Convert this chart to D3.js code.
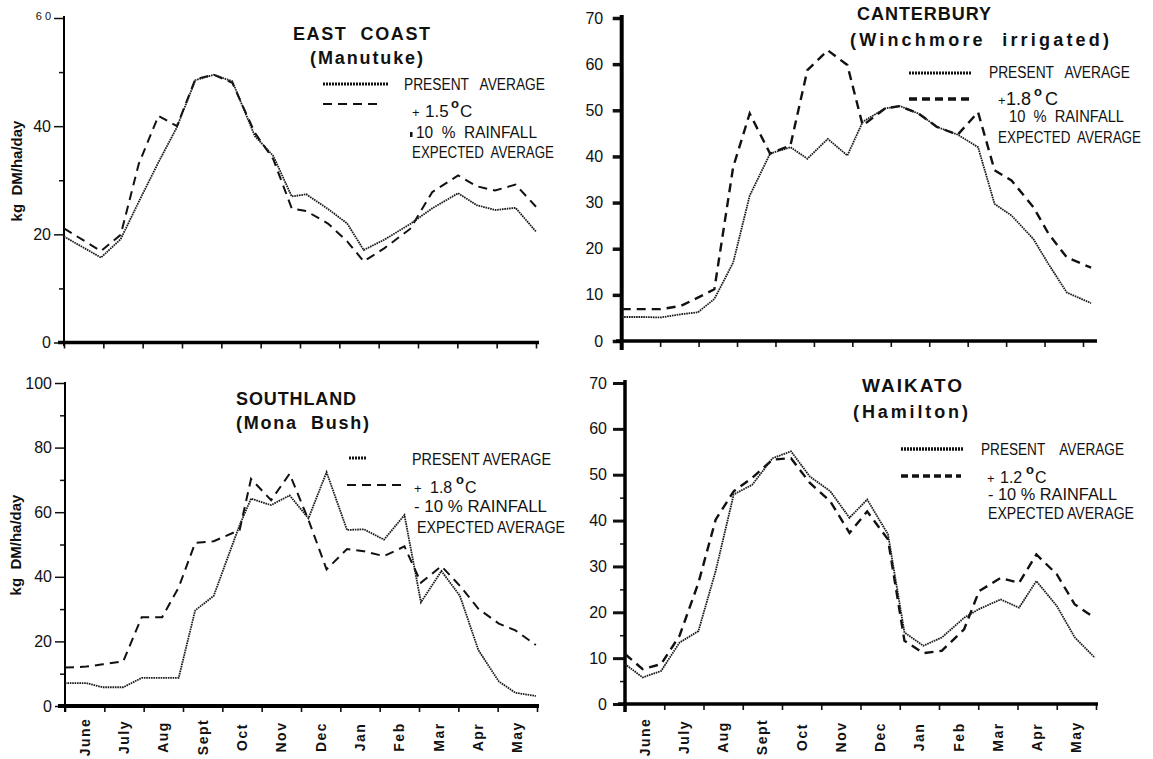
<!DOCTYPE html>
<html>
<head>
<meta charset="utf-8">
<script src="https://cdn.jsdelivr.net/npm/d3@7"></script>
<style>
  body { margin: 0; background: #fff; }
  text { font-family: "Liberation Sans", Arial, sans-serif; fill: #111; }
</style>
</head>
<body>
<script>
// month names under the bottom panels
var months = ["June", "July", "Aug", "Sept", "Oct", "Nov", "Dec", "Jan", "Feb", "Mar", "Apr", "May"];

// EAST COAST (Manutuke) - x in months from start of June
var eastX       = [0, 0.94, 1.44, 1.90, 2.40, 2.87, 3.34, 3.81, 4.28, 4.85, 5.32, 5.79, 6.16, 6.71, 7.20, 7.62, 8.14, 8.80, 9.36, 10.02, 10.49, 10.96, 11.48, 12.0];
var eastPresent = [19.6, 15.7, 19.1, 26, 33.3, 39.8, 48.5, 49.5, 48.3, 38.2, 34.5, 27, 27.4, 24.7, 22, 17.1, 19, 21.9, 24.8, 27.6, 25.4, 24.5, 24.9, 20.5];
var eastWarm    = [21.1, 16.9, 19.9, 33, 41.9, 40, 48.7, 49.5, 48, 38.8, 33.9, 24.8, 24.3, 22, 18.7, 15, 17.4, 21, 27.8, 30.9, 28.9, 28.1, 29.2, 25.1];
var eastTicks    = [0, 20, 40, 60];
var eastTickText = ["0", "20", "40", "6 0"];
var eastMinor    = [10, 30, 50];

// CANTERBURY (Winchmore irrigated)
var cantX       = [0, 0.58, 1.01, 1.54, 1.98, 2.41, 2.90, 3.33, 3.86, 4.39, 4.83, 5.36, 5.87, 6.27, 6.85, 7.24, 7.72, 8.20, 8.74, 9.27, 9.70, 10.14, 10.71, 11.10, 11.58, 12.21];
var cantPresent = [5.2, 5.2, 5.1, 5.8, 6.2, 9.1, 17, 31.5, 40.6, 42, 39.5, 43.8, 40.2, 47.5, 50.4, 50.9, 49.3, 46.4, 44.7, 42, 29.7, 27.2, 22.1, 16.7, 10.5, 8.2];
var cantWarm    = [6.9, 6.9, 6.9, 7.6, 9.4, 11.2, 37.7, 49.3, 40.6, 42.4, 58.7, 63, 59.8, 46.7, 50.4, 50.9, 49.3, 46.4, 44.7, 49.6, 37, 34.8, 29, 23.3, 18.1, 15.9];
var cantTicks    = [0, 10, 20, 30, 40, 50, 60, 70];

// SOUTHLAND (Mona Bush)
var southX       = [0, 0.54, 0.96, 1.48, 1.95, 2.47, 2.89, 3.31, 3.78, 4.44, 4.73, 5.24, 5.71, 6.19, 6.65, 7.17, 7.60, 8.11, 8.63, 9.05, 9.57, 10.04, 10.51, 11.03, 11.45, 11.97];
var southPresent = [7.1, 7.1, 5.8, 5.8, 8.7, 8.7, 8.7, 29.6, 34.1, 56, 64.2, 62.2, 65.2, 58.1, 72.4, 54.5, 54.7, 51.5, 59.1, 32.1, 41.8, 34.1, 17.3, 7.6, 4.1, 3.1];
var southWarm    = [11.9, 12.2, 12.9, 13.8, 27.5, 27.5, 36.7, 50.5, 51, 54.5, 70.3, 63.7, 71.9, 57.6, 42.3, 48.6, 47.9, 46.4, 49.4, 38.2, 43.3, 37.2, 30.1, 25.5, 23.4, 18.9];
var southTicks   = [0, 20, 40, 60, 80, 100];
var southMinor   = [10, 30, 50, 70, 90];

// WAIKATO (Hamilton)
var waikX       = [0, 0.45, 0.92, 1.39, 1.87, 2.31, 2.77, 3.24, 3.76, 4.23, 4.71, 5.23, 5.72, 6.17, 6.70, 7.12, 7.60, 8.07, 8.64, 9.02, 9.57, 10.04, 10.48, 11.00, 11.46, 11.97];
var waikPresent = [8.7, 5.8, 7.2, 13.4, 15.9, 29, 45.7, 47.8, 53.6, 55.1, 49.6, 46.4, 40.6, 44.6, 37, 15.6, 12.7, 14.5, 18.8, 20.7, 22.8, 21, 26.8, 21.4, 14.5, 10.1];
var waikWarm    = [10.9, 7.6, 8.7, 14.9, 26.4, 40.2, 46.4, 49.3, 53.3, 53.6, 48.2, 44.2, 37.3, 42, 35.9, 13.8, 11.1, 11.6, 16.3, 24.6, 27.5, 26.4, 32.6, 28.3, 21.7, 18.8];
var waikTicks   = [0, 10, 20, 30, 40, 50, 60, 70];
var waikMinor   = [5, 15, 25, 35, 45];

var svg = d3.select("body").append("svg")
  .attr("width", 1153)
  .attr("height", 759);

var panels = [
  { xs: eastX, present: eastPresent, warm: eastWarm, ymax: 60, ticks: eastTicks, tickText: eastTickText, minor: eastMinor,
    xr: [64, 536], yr: [342.5, 18], yAxis: [16, 346], yW: 2, xAxis: [58, 539], xW: 3.5,
    tickLen: 10, tickW: 1.5, pad: 3, warmW: 2, warmDash: "9,6", months: false },
  { xs: cantX, present: cantPresent, warm: cantWarm, ymax: 70, ticks: cantTicks, minor: [],
    xr: [621.7, 1083], yr: [341, 18], yAxis: [15, 350], yW: 4, xAxis: [616, 1097], xW: 3.5,
    tickLen: 9, tickW: 3.5, pad: 9.5, warmW: 2.4, warmDash: "9,6", months: false },
  { xs: southX, present: southPresent, warm: southWarm, ymax: 100, ticks: southTicks, minor: southMinor,
    xr: [65, 537], yr: [706, 383], yAxis: [382, 712], yW: 2, xAxis: [58, 539], xW: 4,
    tickLen: 10, tickW: 1.5, pad: 3, warmW: 2, warmDash: "9,6", months: true },
  { xs: waikX, present: waikPresent, warm: waikWarm, ymax: 70, ticks: waikTicks, minor: waikMinor,
    xr: [625, 1096], yr: [704, 383], yAxis: [380, 712], yW: 3.5, xAxis: [618, 1098], xW: 3.5,
    tickLen: 12, tickW: 3, pad: 6, warmW: 2.4, warmDash: "9,6", months: true }
];

panels.forEach(drawPanel);

function drawPanel(p){
  var x = d3.scaleLinear().domain([0, 12]).range(p.xr);
  var y = d3.scaleLinear().domain([0, p.ymax]).range(p.yr);
  var g = svg.append("g");

  // y ticks + labels
  var ya = g.append("g")
    .attr("transform", "translate(" + p.xr[0] + ",0)")
    .call(d3.axisLeft(y).tickValues(p.ticks).tickSize(p.tickLen).tickPadding(p.pad)
      .tickFormat(function(d, i){ return p.tickText ? p.tickText[i] : d; }));
  ya.select(".domain").remove();
  ya.selectAll("line").attr("stroke", "#111").attr("stroke-width", p.tickW);
  ya.selectAll("text").attr("font-size", 16).attr("fill", "#111")
    .style("font-family", "Liberation Sans, Arial, sans-serif");
  if(p.tickText){
    ya.selectAll("text").filter(function(d){ return d === 60; })
      .attr("font-size", 11).attr("fill", "#444").attr("dy", "0.1em");
  }

  // minor ticks
  if(p.minor.length){
    var ym = g.append("g")
      .attr("transform", "translate(" + p.xr[0] + ",0)")
      .call(d3.axisLeft(y).tickValues(p.minor).tickSize(5).tickFormat(""));
    ym.select(".domain").remove();
    ym.selectAll("line").attr("stroke", "#111").attr("stroke-width", 1.5);
  }

  // x ticks (one per month boundary)
  var xa = g.append("g")
    .attr("transform", "translate(0," + p.yr[0] + ")")
    .call(d3.axisBottom(x).tickValues(d3.range(13)).tickSize(6).tickFormat(""));
  xa.select(".domain").remove();
  xa.selectAll("line").attr("stroke", "#111").attr("stroke-width", 1.6);

  // axis lines
  g.append("line")
    .attr("x1", p.xr[0]).attr("x2", p.xr[0])
    .attr("y1", p.yAxis[0]).attr("y2", p.yAxis[1])
    .attr("stroke", "#000").attr("stroke-width", p.yW);
  g.append("line")
    .attr("x1", p.xAxis[0]).attr("x2", p.xAxis[1])
    .attr("y1", p.yr[0]).attr("y2", p.yr[0])
    .attr("stroke", "#000").attr("stroke-width", p.xW);

  var line = d3.line()
    .x(function(d){ return x(d[0]); })
    .y(function(d){ return y(d[1]); });

  g.append("path")
    .datum(d3.zip(p.xs, p.warm))
    .attr("d", line)
    .attr("fill", "none")
    .attr("stroke", "#111")
    .attr("stroke-width", p.warmW)
    .attr("stroke-dasharray", p.warmDash);

  g.append("path")
    .datum(d3.zip(p.xs, p.present))
    .attr("d", line)
    .attr("fill", "none")
    .attr("stroke", "#1a1a1a")
    .attr("stroke-width", 1.8)
    .attr("stroke-dasharray", "1.6,0.8");

  // month names, rotated to read upwards, centred between ticks
  if(p.months){
    g.selectAll(".month")
      .data(months)
      .enter().append("text")
      .attr("class", "month")
      .attr("x", function(d, i){ return x(i + 0.5); })
      .attr("y", 737)
      .attr("transform", function(d, i){ return "rotate(-90," + x(i + 0.5) + ",737)"; })
      .attr("text-anchor", "middle")
      .attr("dy", "0.35em")
      .attr("font-size", 14)
      .attr("font-weight", "bold")
      .attr("letter-spacing", 1.5)
      .text(function(d){ return d; });
  }
}

// ---- titles ----
function title(txt, x, yb, w, size){
  svg.append("text")
    .attr("x", x).attr("y", yb)
    .attr("font-size", size || 18)
    .attr("font-weight", "bold")
    .attr("textLength", w)
    .attr("lengthAdjust", "spacing")
    .style("white-space", "pre")
    .text(txt);
}
title("EAST  COAST", 293, 40, 137);
title("(Manutuke)", 310, 64, 113);
title("CANTERBURY", 857, 20, 134);
title("(Winchmore  irrigated)", 850, 46, 259);
title("SOUTHLAND", 236, 405, 120);
title("(Mona  Bush)", 236, 429, 133);
title("WAIKATO", 862, 392, 100, 19);
title("(Hamilton)", 853, 418, 115);

// y axis caption
[[16, 171], [15, 545]].forEach(function(c){
  svg.append("text")
    .attr("transform", "translate(" + c[0] + "," + c[1] + ") rotate(-90)")
    .attr("text-anchor", "middle")
    .attr("dominant-baseline", "central")
    .attr("font-size", 15)
    .attr("font-weight", "bold")
    .style("white-space", "pre")
    .text("kg  DM/ha/day");
});

// ---- legends ----
function sample(x1, x2, yy, w, dash){
  svg.append("line")
    .attr("x1", x1).attr("x2", x2).attr("y1", yy).attr("y2", yy)
    .attr("stroke", "#111").attr("stroke-width", w)
    .attr("stroke-dasharray", dash);
}
function ltext(txt, x, yb, w, size){
  svg.append("text")
    .attr("x", x).attr("y", yb)
    .attr("font-size", size || 16)
    .attr("textLength", w)
    .attr("lengthAdjust", "spacingAndGlyphs")
    .style("white-space", "pre")
    .text(txt);
}
// "+ 1.5 °C" with raised degree sign
function temp(xPlus, xNum, xDeg, xC, yb, num, numSize){
  var t = svg.append("text").attr("y", yb).attr("font-size", 16);
  t.append("tspan").attr("x", xPlus).attr("font-size", 13).text("+");
  t.append("tspan").attr("x", xNum).attr("font-size", numSize).text(num);
  t.append("tspan").attr("x", xDeg).attr("dy", -9).attr("font-size", 13).attr("font-weight", "bold").text("o");
  t.append("tspan").attr("x", xC).attr("dy", 9).attr("font-size", numSize).text("C");
}

// East Coast
sample(323, 388, 84, 3, "2,1");
sample(323, 382, 104, 2, "9,6");
ltext("PRESENT   AVERAGE", 404, 90, 141);
temp(412, 425, 451, 460, 117, "1.5", 17);
svg.append("rect").attr("x", 410).attr("y", 132).attr("width", 2.5).attr("height", 5).attr("fill", "#111");
ltext("10  %  RAINFALL", 416, 138, 121);
ltext("EXPECTED  AVERAGE", 412, 158, 142);

// Canterbury
sample(909, 972, 73, 3, "2,1");
sample(909, 972, 99, 3.5, "8,5");
ltext("PRESENT   AVERAGE", 989, 78, 141);
temp(998, 1006, 1034, 1045, 105, "1.8", 18);
ltext("10  %  RAINFALL", 1009, 122, 115);
ltext("EXPECTED  AVERAGE", 998, 143, 143);

// Southland
sample(349, 366, 458, 3, "2,1");
sample(347, 402, 485, 2, "9,6");
ltext("PRESENT AVERAGE", 412, 465, 139);
temp(414, 430, 456, 465, 493, "1.8", 16);
ltext("- 10 % RAINFALL", 414, 512, 133);
ltext("EXPECTED AVERAGE", 417, 533, 148);

// Waikato
sample(901, 964, 449, 3.5, "2,1");
sample(901, 961, 476, 3.5, "7,4");
ltext("PRESENT    AVERAGE", 981, 455, 143);
temp(987, 1000, 1026, 1035, 483, "1.2", 16);
ltext("- 10 % RAINFALL", 988, 500, 129);
ltext("EXPECTED AVERAGE", 988, 519, 146);
</script>
</body>
</html>
